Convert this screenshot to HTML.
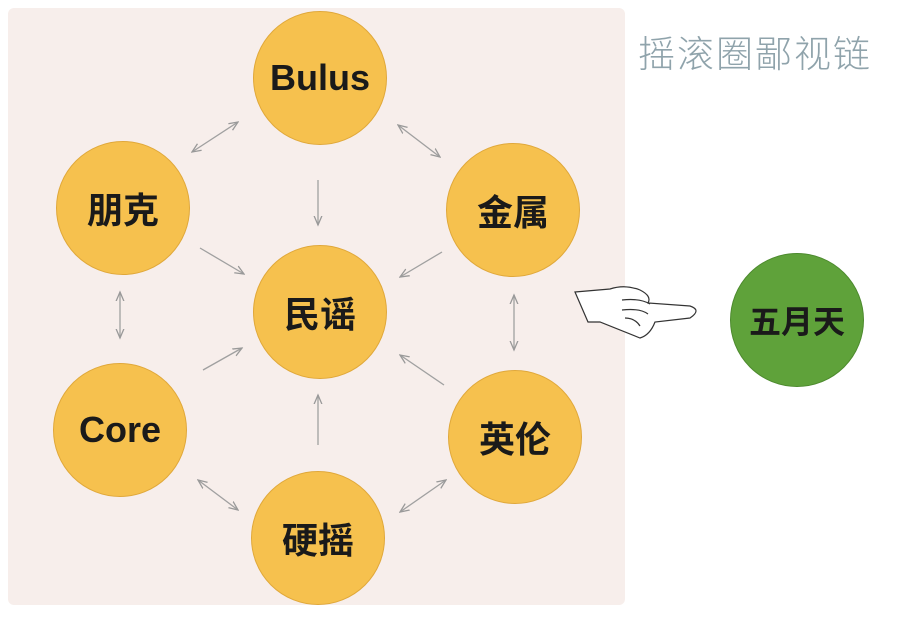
<!DOCTYPE html>
<html><head><meta charset="utf-8"><style>
body{margin:0;width:900px;height:632px;background:#fff;overflow:hidden;position:relative;font-family:"Liberation Sans","Noto Sans CJK SC",sans-serif}
.panel{position:absolute;left:8px;top:8px;width:617px;height:597px;background:#f7eeeb;border-radius:6px}
.c{position:absolute;width:134px;height:134px;border-radius:50%;background:#f6c14e;border:1px solid #e0a83a;box-sizing:border-box;display:flex;align-items:center;justify-content:center;font-size:36px;font-weight:600;color:#1a1a1a}
.title{position:absolute;left:638px;top:24px;font-size:37px;color:#8fa3ab;letter-spacing:2px;font-weight:300}
</style></head><body>
<div class="panel"></div>
<div class="title">摇滚圈鄙视链</div>
<div class="c" style="left:253px;top:11px">Bulus</div>
<div class="c" style="left:56px;top:141px">朋克</div>
<div class="c" style="left:446px;top:143px">金属</div>
<div class="c" style="left:253px;top:245px">民谣</div>
<div class="c" style="left:53px;top:363px">Core</div>
<div class="c" style="left:448px;top:370px">英伦</div>
<div class="c" style="left:251px;top:471px">硬摇</div>
<div class="c" style="left:730px;top:253px;background:#5fa23a;border-color:#4d8a2e;font-size:32px">五月天</div>
<svg width="900" height="632" style="position:absolute;left:0;top:0">
<defs><marker id="a" markerWidth="8" markerHeight="8" refX="7" refY="4" orient="auto-start-reverse"><path d="M0,1 L7,4 L0,7" fill="none" stroke="#999" stroke-width="1"/></marker></defs>
<g stroke="#a0a0a0" stroke-width="1.3" fill="none">
<line x1="238" y1="122" x2="192" y2="152" marker-start="url(#a)" marker-end="url(#a)"/>
<line x1="398" y1="125" x2="440" y2="157" marker-start="url(#a)" marker-end="url(#a)"/>
<line x1="318" y1="180" x2="318" y2="225" marker-end="url(#a)"/>
<line x1="200" y1="248" x2="244" y2="274" marker-end="url(#a)"/>
<line x1="442" y1="252" x2="400" y2="277" marker-end="url(#a)"/>
<line x1="120" y1="292" x2="120" y2="338" marker-start="url(#a)" marker-end="url(#a)"/>
<line x1="514" y1="295" x2="514" y2="350" marker-start="url(#a)" marker-end="url(#a)"/>
<line x1="203" y1="370" x2="242" y2="348" marker-end="url(#a)"/>
<line x1="444" y1="385" x2="400" y2="355" marker-end="url(#a)"/>
<line x1="318" y1="445" x2="318" y2="395" marker-end="url(#a)"/>
<line x1="198" y1="480" x2="238" y2="510" marker-start="url(#a)" marker-end="url(#a)"/>
<line x1="400" y1="512" x2="446" y2="480" marker-start="url(#a)" marker-end="url(#a)"/>
</g>
<g stroke="#333" stroke-width="1.2" fill="#fff">
<path d="M575,292 L610,289 Q625,284 640,290 Q652,296 648,303 L690,306 Q702,310 690,318 L655,322 Q650,335 640,338 L600,322 L588,322 Z"/>
<path d="M622,300 Q640,298 650,304 M622,310 Q640,308 648,314 M625,318 Q635,318 640,326" fill="none"/>
</g>
</svg>
</body></html>
